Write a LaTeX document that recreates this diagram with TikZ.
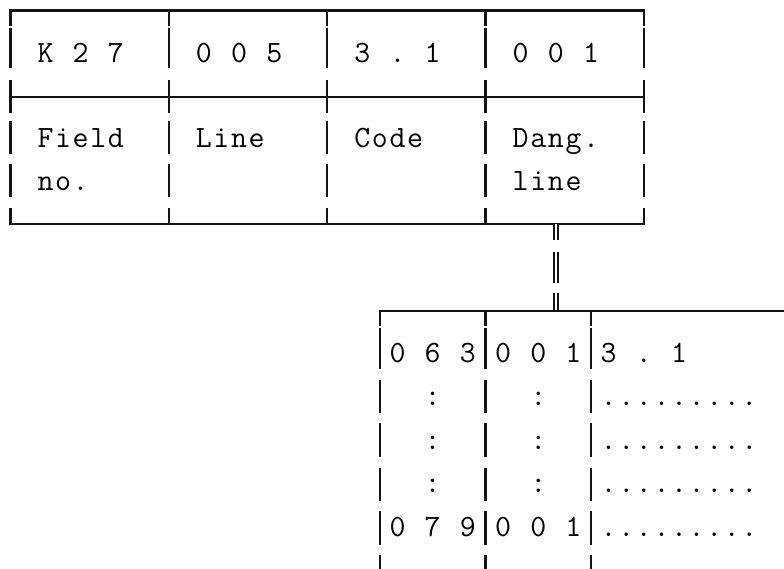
\documentclass[tikz,border=0pt]{standalone}
\usepackage{fontspec}
\makeatletter
\def\gt@space{_}
\newcommand\gridtext[1]{\@tfor\gt@c:=#1\do{\ifx\gt@c\gt@space\makebox[17.6pt]{}\else\makebox[17.6pt][c]{\gt@c}\fi}}
\makeatother
\tikzset{
  txt/.style={anchor=base west, inner sep=0pt, outer sep=0pt, text=black,
    font=\ttfamily\fontsize{31pt}{37pt}\selectfont},
  hline/.style={line width=2.2pt, line cap=rect, draw=black!92},
  topvert/.style={line width=2.4pt, draw=black!92,
    dash pattern=on 15.5pt off 2pt on 40pt off 12pt on 33pt off 8pt on 33pt off 10pt on 33pt off 11pt on 16pt off 100pt},
  lowvert/.style={line width=2.4pt, draw=black!92,
    dash pattern=on 15pt off 2pt on 41pt off 11pt on 33pt off 10pt on 34pt off 11pt on 33pt off 10pt on 34pt off 10pt on 45pt off 100pt},
  dblconn/.style={double=white, draw=black!92, line width=2pt, double distance=2.3pt,
    dash pattern=on 16pt off 12pt on 31pt off 10pt on 18pt off 100pt}
}
\begin{document}
\begin{tikzpicture}[x=1pt,y=-1pt]
\useasboundingbox (0,0) rectangle (784,568);
\clip (0,0) rectangle (784,568);
\fill[white] (0,0) rectangle (784,568);
% ---- upper record box ----
\foreach \yy in {10.5,97,224} \draw[hline] (10.3,\yy) -- (643.9,\yy);
\foreach \xx in {10.3,168.7,327.1,485.5,643.9} \draw[topvert] (\xx,10.5) -- (\xx,224);
% row 1 values
\node[txt] (k27)  at ({10.3+17.6*2-8.8},62) {\gridtext{K_2_7}};
\node[txt] (v005) at ({10.3+17.6*11-8.8},62) {\gridtext{0_0_5}};
\node[txt] (v31)  at ({10.3+17.6*20-8.8},62) {\gridtext{3_._1}};
\node[txt] (v001) at ({10.3+17.6*29-8.8},62) {\gridtext{0_0_1}};
% row 3/4 labels
\node[txt] (lfield) at ({10.3+17.6*2-8.8},147) {\gridtext{Field}};
\node[txt] (lno)    at ({10.3+17.6*2-8.8},190) {\gridtext{no.}};
\node[txt] (lline)  at ({10.3+17.6*11-8.8},147) {\gridtext{Line}};
\node[txt] (lcode)  at ({10.3+17.6*20-8.8},147) {\gridtext{Code}};
\node[txt] (ldang)  at ({10.3+17.6*29-8.8},147) {\gridtext{Dang.}};
\node[txt] (ldline) at ({10.3+17.6*29-8.8},190) {\gridtext{line}};
% ---- double connector ----
\coordinate (dtop) at (556.1,224);
\coordinate (dbot) at (556.1,311);
\draw[dblconn] (dtop) -- (dbot);
% ---- lower table ----
\draw[hline] (379.9,311) -- (800,311);
\foreach \xx in {379.9,485.5,591.1} \draw[lowvert] (\xx,311) -- (\xx,600);
\node[txt] (a063) at ({10.3+17.6*22-8.8},362) {\gridtext{0_6_3}};
\node[txt] (b001) at ({10.3+17.6*28-8.8},362) {\gridtext{0_0_1}};
\node[txt] (c31)  at ({10.3+17.6*34-8.8},362) {\gridtext{3_._1}};
\foreach \yy/\nm in {405/r1,449/r2,492/r3} {
  \node[txt] (a\nm) at ({10.3+17.6*24-8.8},\yy) {\gridtext{:}};
  \node[txt] (b\nm) at ({10.3+17.6*30-8.8},\yy) {\gridtext{:}};
  \node[txt] (c\nm) at ({10.3+17.6*34-8.8},\yy) {\gridtext{.........}};
}
\node[txt] (a079) at ({10.3+17.6*22-8.8},536) {\gridtext{0_7_9}};
\node[txt] (b001b) at ({10.3+17.6*28-8.8},536) {\gridtext{0_0_1}};
\node[txt] (cr4)  at ({10.3+17.6*34-8.8},536) {\gridtext{.........}};
\end{tikzpicture}
\end{document}
